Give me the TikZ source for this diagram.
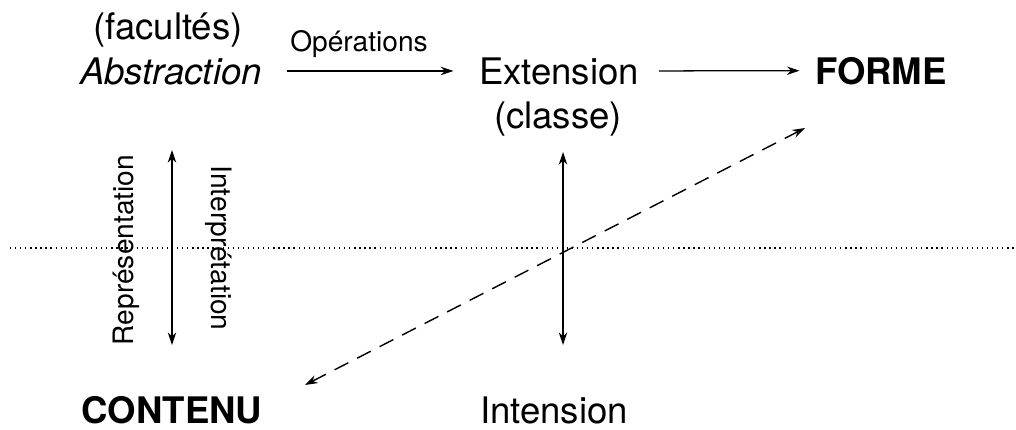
\documentclass[tikz,border=0pt]{standalone}
\usepackage{fontspec}
\setmainfont{TeX Gyre Heros}
\usepackage{tikz}
\usetikzlibrary{arrows.meta}

\tikzset{
  mot/.style={inner sep=0pt, anchor=base, font=\fontsize{26}{30}\selectfont},
  petit/.style={inner sep=0pt, font=\fontsize{20}{24}\selectfont},
  fleche/.style={line width=0.9pt, -{Stealth[length=9pt,width=6pt]}},
  double/.style={line width=0.9pt, {Stealth[length=9pt,width=6pt]}-{Stealth[length=9pt,width=6pt]}}
}

\begin{document}
\begin{tikzpicture}[x=0.025cm, y=-0.025cm]
    \useasboundingbox (0,0) rectangle (1016,429);
%% en haut : la forme
    \node[mot] (facultes) at (168,39) {(facultés)};
    \node[mot] (abs) at (171,84) {\itshape Abstraction};
    \node[petit, anchor=base] (oper) at (359,51) {Opérations};
    \node[mot] (ext) at (559,84) {Extension};
    \node[mot] (classe) at (558,128) {(classe)};
    \node[mot] (forme) at (881,84) {\bfseries FORME};
%% en bas : le contenu
    \node[mot] (contenu) at (172,423) {\bfseries CONTENU};
    \node[mot] (int) at (554,423) {Intension};
    \node[petit, rotate=90] (repr) at (126,250) {Représentation};
    \node[petit, rotate=-90] (interp) at (219,248) {Interprétation};
    \draw[fleche, shorten <=18pt, shorten >=18pt] (abs.east) -- (ext.west);
    \draw[fleche, shorten <=14pt, shorten >=11pt] (ext.east) -- (forme.west);
%% les axes
    \coordinate (g1) at (172,150);
    \coordinate (g2) at (172,345);
    \coordinate (m1) at (563,152);
    \coordinate (m2) at (563,345);
    \coordinate (d1) at (805,128);
    \coordinate (d2) at (305,385);
    \draw[double] (g1) -- (g2);
    \draw[double] (m1) -- (m2);
    \draw[line width=0.9pt, dash pattern=on 0.9pt off 2.7pt] (10,248) -- (1016,248);
    \draw[line width=1pt, dash pattern=on 11pt off 7pt, {Stealth[length=9pt,width=6pt]}-{Stealth[length=9pt,width=6pt]}] (d2) -- (d1);
\end{tikzpicture}
\end{document}
